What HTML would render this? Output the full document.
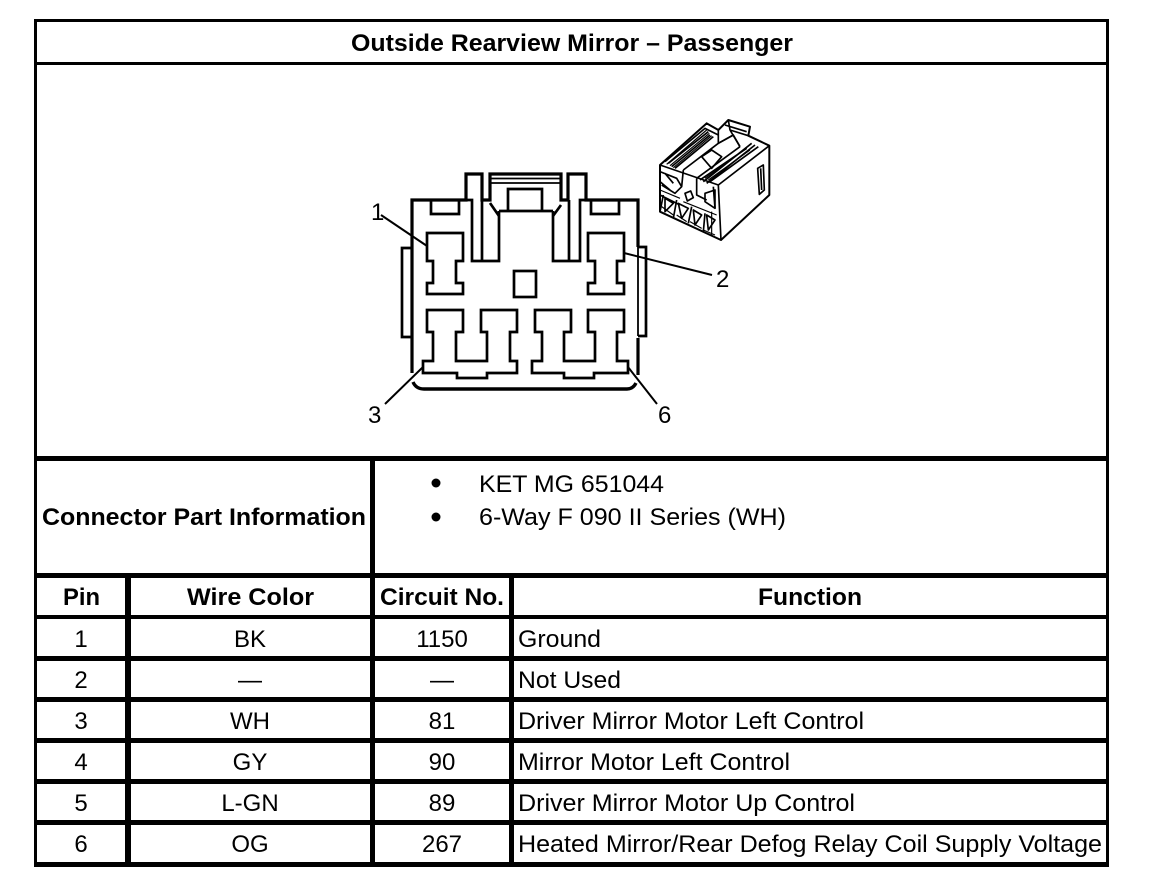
<!DOCTYPE html>
<html><head><meta charset="utf-8"><style>
html,body{margin:0;padding:0;background:#fff}
svg{display:block}
text{font-family:"Liberation Sans",sans-serif;font-size:24px;fill:#000}
.b{font-weight:bold}
.l{fill:#000;stroke:none}
</style></head><body>
<svg width="1152" height="886" viewBox="0 0 1152 886" xmlns="http://www.w3.org/2000/svg">
<rect width="1152" height="886" fill="#fff"/>
<!-- table frame -->
<g class="l">
<rect x="34" y="19" width="1075" height="3"/>
<rect x="34" y="19" width="3" height="848"/>
<rect x="1106" y="19" width="3" height="848"/>
<rect x="34" y="62" width="1075" height="3"/>
<rect x="34" y="456" width="1075" height="5"/>
<rect x="34" y="573" width="1075" height="5"/>
<rect x="34" y="615" width="1075" height="4"/>
<rect x="34" y="656" width="1075" height="5"/>
<rect x="34" y="697" width="1075" height="5"/>
<rect x="34" y="738" width="1075" height="5"/>
<rect x="34" y="779" width="1075" height="5"/>
<rect x="34" y="820" width="1075" height="5"/>
<rect x="34" y="862" width="1075" height="5"/>
<rect x="125" y="573" width="6" height="294"/>
<rect x="370" y="456" width="5" height="411"/>
<rect x="509" y="573" width="5" height="294"/>
</g>
<!-- text -->
<text class="b" x="351" y="51" textLength="442" lengthAdjust="spacingAndGlyphs">Outside Rearview Mirror – Passenger</text>
<text class="b" x="42" y="525" textLength="324" lengthAdjust="spacingAndGlyphs">Connector Part Information</text>
<circle cx="436" cy="483" r="4.5"/><circle cx="436" cy="517" r="4.5"/>
<text x="479" y="492" textLength="185" lengthAdjust="spacingAndGlyphs">KET MG 651044</text>
<text x="479" y="525" textLength="307" lengthAdjust="spacingAndGlyphs">6-Way F 090 II Series (WH)</text>
<text class="b" x="63" y="605" textLength="37" lengthAdjust="spacingAndGlyphs">Pin</text>
<text class="b" x="187" y="605" textLength="127" lengthAdjust="spacingAndGlyphs">Wire Color</text>
<text class="b" x="380" y="605" textLength="124" lengthAdjust="spacingAndGlyphs">Circuit No.</text>
<text class="b" x="758" y="605" textLength="104" lengthAdjust="spacingAndGlyphs">Function</text>
<g text-anchor="middle">
<text x="81" y="647">1</text><text x="81" y="688">2</text><text x="81" y="729">3</text><text x="81" y="770">4</text><text x="81" y="811">5</text><text x="81" y="852">6</text>
<text x="250" y="647">BK</text><text x="250" y="688">—</text><text x="250" y="729">WH</text><text x="250" y="770">GY</text><text x="250" y="811">L-GN</text><text x="250" y="852">OG</text>
<text x="442" y="647">1150</text><text x="442" y="688">—</text><text x="442" y="729">81</text><text x="442" y="770">90</text><text x="442" y="811">89</text><text x="442" y="852">267</text>
</g>
<text x="518" y="647" textLength="83" lengthAdjust="spacingAndGlyphs">Ground</text>
<text x="518" y="688" textLength="103" lengthAdjust="spacingAndGlyphs">Not Used</text>
<text x="518" y="729" textLength="346" lengthAdjust="spacingAndGlyphs">Driver Mirror Motor Left Control</text>
<text x="518" y="770" textLength="272" lengthAdjust="spacingAndGlyphs">Mirror Motor Left Control</text>
<text x="518" y="811" textLength="337" lengthAdjust="spacingAndGlyphs">Driver Mirror Motor Up Control</text>
<text x="518" y="852" textLength="584" lengthAdjust="spacingAndGlyphs">Heated Mirror/Rear Defog Relay Coil Supply Voltage</text>
<!-- connector -->
<g fill="none" stroke="#000" stroke-width="2.700" stroke-linejoin="miter">
<path stroke-width="3.200" d="M412 373V200H466V174H482V200H490V174H561V200H568V174H586V200H638V247"/>
<path stroke-width="3.200" d="M638 375V338"/>
<path d="M490 178.500H561M490 183H561" stroke-width="1.800"/>
<path d="M490 203L499 216M561 205L553 216"/>
<path d="M508 211V189H542V211"/>
<path d="M499 211H553"/>
<path d="M499 211V261H472V200H466M482 200V261"/>
<path d="M553 211V261H580V200H586M569 200V261"/>
<path d="M431 200V214H459V200M591 200V214H619V200"/>
<path d="M427 233H463V261H456V283H463V294H427V283H433V261H427Z"/>
<path d="M588 233H624V261H617V283H624V294H588V283H595V261H588Z"/>
<rect x="514" y="271" width="22" height="26"/>
<path d="M412 248H402V337H412"/>
<path d="M638 247H646V336H638"/>
<path d="M638 247V336" stroke-width="1.800"/>
<path d="M481 310H517V332H510V361H517V373H487V378H457V373H423V361H433V332H427V310H463V332H456V361H487V332H481Z"/>
<path d="M535 310H571V332H564V361H595V332H588V310H624V332H617V361H628V373H594V378H564V373H532V361H542V332H535Z"/>
<path stroke-width="3.400" d="M413 382Q416 389 424 389H627Q633 389 636 383"/>
<path stroke-width="2" d="M381 215L427 246M624 253L712 275M385 404L423 367M628 367L657 404"/>
</g>
<text x="371" y="220">1</text>
<text x="716" y="287">2</text>
<text x="368" y="423">3</text>
<text x="658" y="423">6</text>
<!-- 3D connector -->
<g transform="translate(650 115) scale(.3333)" fill="none" stroke="#000" stroke-width="5" stroke-linejoin="round">
<path stroke-width="6" d="M30 150L170 25L205 45L235 15L300 35L295 62L358 92L358 240L213 375L30 290Z"/>
<path d="M205 210L358 92M205 210L213 375M30 150L205 210"/>
<path d="M323 160L340 150L343 225L328 238ZM332 160L335 225"/>
<path d="M45 140L165 40L205 60M55 145L175 50M65 155L180 60M75 160L190 65"/>
<path stroke-width="3.500" d="M50 148L170 45M60 152L178 55M70 158L185 62"/>
<path d="M205 45V85L250 60M235 15L240 45L295 62M225 30L290 50M240 45L270 95"/>
<path d="M100 165L95 215M100 165L205 85M155 125L185 105L215 125L185 160ZM205 85L250 60L270 95"/>
<path d="M140 190L270 95M150 195L290 100M160 200L305 85M170 205L315 90M180 200L325 95M140 190V240L170 255M190 215L195 280"/>
<path stroke-width="3.500" d="M165 190L290 100M175 195L300 105"/>
<path d="M105 235L122 228L130 248L112 258Z"/>
<path d="M30 170L80 190L95 215L75 235L35 210M45 175L70 205M30 200L60 225M30 240L90 270M30 290L40 240M80 255L70 310M125 275L115 325M165 295L160 350M45 250L70 265L45 290ZM85 265L115 280L95 310ZM130 285L155 300L135 330ZM170 300L195 315L175 345ZM165 235L195 225V280L165 260Z"/>
<path stroke-width="3.500" d="M35 275L70 300M80 300L110 320M120 320L155 340M160 345L195 360M185 290V360M30 225L90 250M100 260L200 300"/>
</g>
</svg>
</body></html>
